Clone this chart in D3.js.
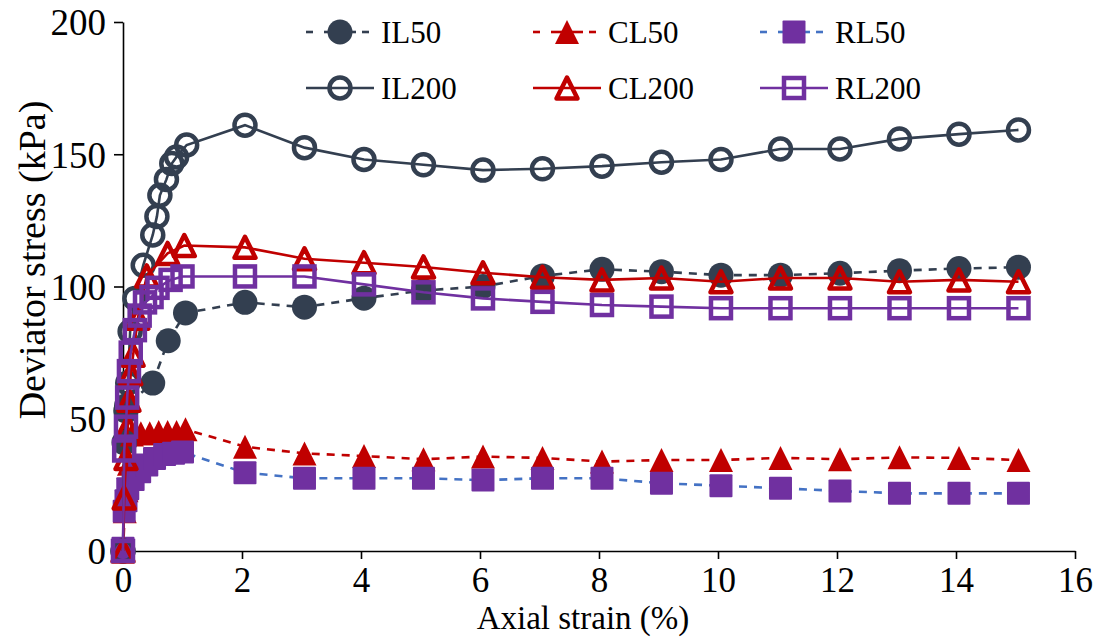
<!DOCTYPE html>
<html>
<head>
<meta charset="utf-8">
<script src="https://cdn.jsdelivr.net/npm/d3@7/dist/d3.min.js"></script>
<style>
  html, body { margin: 0; padding: 0; background: #fff; }
  svg { display: block; }
  text { font-family: "Liberation Serif", "Times New Roman", serif; fill: #000; }
</style>
</head>
<body>
<svg id="chart" width="1094" height="637"></svg>
<script>
// Triaxial test results: deviator stress (kPa) against axial strain (%)
const xTicks = [0, 2, 4, 6, 8, 10, 12, 14, 16];
const yTicks = [0, 50, 100, 150, 200];

const strainIL50 = [0, 0.03, 0.06, 0.5, 0.76, 1.05, 2.05, 3.05, 4.05, 5.05, 6.05, 7.05, 8.05, 9.05, 10.05, 11.05, 12.05, 13.05, 14.05, 15.05];
const stressIL50 = [0, 41, 55, 63.5, 79.5, 90, 94, 92.2, 95.6, 98.5, 100, 104, 106.5, 105.6, 104.3, 104.3, 105, 106, 106.8, 107.3];

const strainCL50 = [0, 0.03, 0.06, 0.1, 0.15, 0.3, 0.45, 0.6, 0.75, 0.9, 1.05, 2.05, 3.05, 4.05, 5.05, 6.05, 7.05, 8.05, 9.05, 10.05, 11.05, 12.05, 13.05, 14.05, 15.05];
const stressCL50 = [0, 15, 23, 33, 44, 44.5, 44.5, 45, 45, 45, 46, 39.4, 36.9, 35.9, 34.7, 35.7, 35.2, 33.8, 34.4, 34.4, 35.2, 34.7, 35.4, 35.2, 34.4];

const strainRL50 = [0, 0.02, 0.05, 0.08, 0.17, 0.28, 0.4, 0.53, 0.7, 0.85, 1.0, 2.05, 3.05, 4.05, 5.05, 6.05, 7.05, 8.05, 9.05, 10.05, 11.05, 12.05, 13.05, 14.05, 15.05];
const stressRL50 = [1, 15, 19, 23.5, 27, 30, 32.5, 35, 36.5, 37, 37.4, 29.6, 27.5, 27.5, 27.5, 26.8, 27.5, 27.5, 25.6, 24.7, 23.7, 22.7, 21.8, 21.8, 21.8];

const strainIL200 = [0, 0.02, 0.05, 0.08, 0.12, 0.2, 0.34, 0.5, 0.57, 0.62, 0.73, 0.82, 0.9, 1.07, 2.05, 3.05, 4.05, 5.05, 6.05, 7.05, 8.05, 9.05, 10.05, 11.05, 12.05, 13.05, 14.05, 15.05];
const stressIL200 = [0, 41, 53, 63.5, 83, 95.5, 108, 119.5, 126.5, 134.5, 140.5, 146.5, 149, 153.5, 161, 152.5, 148, 146, 144, 144.5, 145.5, 147, 148, 152, 152, 155.8, 157.6, 159.2];

const strainCL200 = [0, 0.02, 0.05, 0.08, 0.1, 0.13, 0.17, 0.25, 0.4, 0.75, 1.03, 2.05, 3.05, 4.05, 5.05, 6.05, 7.05, 8.05, 9.05, 10.05, 11.05, 12.05, 13.05, 14.05, 15.05];
const stressCL200 = [0, 20, 35, 47, 57, 67, 74, 88, 104, 112.5, 115.5, 114.8, 110.5, 109, 107.4, 105.2, 103.5, 102.5, 103.2, 101.8, 103.2, 103.2, 101.8, 102.5, 101.8];

const strainRL200 = [0, 0.02, 0.05, 0.07, 0.1, 0.13, 0.2, 0.28, 0.37, 0.48, 0.58, 0.8, 1.0, 2.05, 3.05, 4.05, 5.05, 6.05, 7.05, 8.05, 9.05, 10.05, 11.05, 12.05, 13.05, 14.05, 15.05];
const stressRL200 = [0, 38, 47, 58, 68, 75, 83.5, 89, 94, 96, 99.5, 102.5, 103.8, 103.8, 103.8, 100.8, 97.8, 95.5, 94.2, 93, 92.4, 91.8, 91.8, 91.8, 91.8, 91.8, 91.8];

const seriesNames = ["IL50", "CL50", "RL50", "IL200", "CL200", "RL200"];

const DARK = "#333F50", RED = "#C00000", PURPLE = "#7030A0", BLUE = "#4472C4";

const series = [
  { name: seriesNames[0], x: strainIL50, y: stressIL50, line: DARK, dash: "8,7", shape: "circle", filled: true, fill: DARK },
  { name: seriesNames[1], x: strainCL50, y: stressCL50, line: RED, dash: "8,7", shape: "triangle", filled: true, fill: RED },
  { name: seriesNames[2], x: strainRL50, y: stressRL50, line: BLUE, dash: "8,7", shape: "square", filled: true, fill: PURPLE },
  { name: seriesNames[3], x: strainIL200, y: stressIL200, line: DARK, dash: null, shape: "circle", filled: false, fill: DARK },
  { name: seriesNames[4], x: strainCL200, y: stressCL200, line: RED, dash: null, shape: "triangle", filled: false, fill: RED },
  { name: seriesNames[5], x: strainRL200, y: stressRL200, line: PURPLE, dash: null, shape: "square", filled: false, fill: PURPLE }
];

const svg = d3.select("#chart");
const W = 1094, H = 637;
const margin = { left: 123, right: W - 1075, top: 22, bottom: H - 551 };

const x = d3.scaleLinear().domain([0, 16]).range([margin.left, W - margin.right]);
const y = d3.scaleLinear().domain([0, 200]).range([H - margin.bottom, margin.top]);

// Axes
const xAxis = d3.axisBottom(x).tickValues(xTicks).tickSize(8).tickSizeOuter(0).tickPadding(8);
const yAxis = d3.axisLeft(y).tickValues(yTicks).tickSize(9).tickSizeOuter(0).tickPadding(8);

const gx = svg.append("g").attr("transform", `translate(0,${y(0)})`).call(xAxis);
const gy = svg.append("g").attr("transform", `translate(${x(0)},0)`).call(yAxis);
[gx, gy].forEach(g => {
  g.select(".domain").attr("stroke", "#000").attr("stroke-width", 1.6);
  g.selectAll(".tick line").attr("stroke", "#000").attr("stroke-width", 1.6);
  g.selectAll(".tick text").style("font-family", '"Liberation Serif", serif').style("font-size", "35px").attr("fill", "#000");
});
gx.selectAll(".tick text").attr("dy", "0.71em");
gy.selectAll(".tick text").attr("dy", "0.35em").style("font-size", "37px");

// Axis titles
svg.append("text").attr("x", 583).attr("y", 629)
  .attr("text-anchor", "middle").style("font-size", "33px").text("Axial strain (%)");
svg.append("text").attr("transform", `translate(45,260) rotate(-90)`)
  .attr("text-anchor", "middle").style("font-size", "38px").text("Deviator stress (kPa)");

// Marker drawing
function drawMarker(g, s, cx, cy) {
  const sw = 4.5;
  if (s.shape === "circle") {
    if (s.filled) {
      g.append("circle").attr("cx", cx).attr("cy", cy).attr("r", 12.5).attr("fill", s.fill);
    } else {
      g.append("circle").attr("cx", cx).attr("cy", cy).attr("r", 10.5).attr("fill", "none")
        .attr("stroke", s.fill).attr("stroke-width", sw);
    }
  } else if (s.shape === "triangle") {
    const h = s.filled ? 24 : 21, w = s.filled ? 24 : 21;
    const pts = [[cx, cy - h / 2], [cx + w / 2, cy + h / 2], [cx - w / 2, cy + h / 2]];
    const p = g.append("path").attr("d", d3.line()(pts) + "Z");
    if (s.filled) p.attr("fill", s.fill);
    else p.attr("fill", "none").attr("stroke", s.fill).attr("stroke-width", sw).attr("stroke-linejoin", "round");
  } else {
    if (s.filled) {
      g.append("rect").attr("x", cx - 11.5).attr("y", cy - 11.5).attr("width", 23).attr("height", 23)
        .attr("fill", s.fill).attr("rx", 1);
    } else {
      g.append("rect").attr("x", cx - 10).attr("y", cy - 10).attr("width", 20).attr("height", 20)
        .attr("fill", "none").attr("stroke", s.fill).attr("stroke-width", sw);
    }
  }
}

const lineGen = d3.line().x(d => x(d[0])).y(d => y(d[1]));

const plot = svg.append("g");
series.forEach(s => {
  const pts = s.x.map((v, i) => [v, s.y[i]]);
  const g = plot.append("g");
  g.append("path").attr("d", lineGen(pts)).attr("fill", "none")
    .attr("stroke", s.line).attr("stroke-width", 2.6)
    .attr("stroke-dasharray", s.dash);
  pts.forEach(p => drawMarker(g, s, x(p[0]), y(p[1])));
});

// Legend: three columns, two rows
const legendCols = [340, 567, 794];
const legendRows = [32, 88];
series.forEach((s, i) => {
  const cx = legendCols[i % 3], cy = legendRows[Math.floor(i / 3)];
  const g = svg.append("g");
  if (s.dash) {
    g.append("line").attr("x1", cx - 34).attr("x2", cx - 22).attr("y1", cy).attr("y2", cy)
      .attr("stroke", s.line).attr("stroke-width", 2.6).attr("stroke-dasharray", "7,6");
    g.append("line").attr("x1", cx - 16).attr("x2", cx + 16).attr("y1", cy).attr("y2", cy)
      .attr("stroke", s.line).attr("stroke-width", 2.6);
    g.append("line").attr("x1", cx + 22).attr("x2", cx + 34).attr("y1", cy).attr("y2", cy)
      .attr("stroke", s.line).attr("stroke-width", 2.6).attr("stroke-dasharray", "7,6");
  } else {
    g.append("line").attr("x1", cx - 34).attr("x2", cx + 34).attr("y1", cy).attr("y2", cy)
      .attr("stroke", s.line).attr("stroke-width", 2.6);
  }
  drawMarker(g, s, cx, cy);
  g.append("text").attr("x", cx + 41).attr("y", cy).attr("dy", "0.35em")
    .style("font-size", "31px").text(s.name);
});
</script>
</body>
</html>
